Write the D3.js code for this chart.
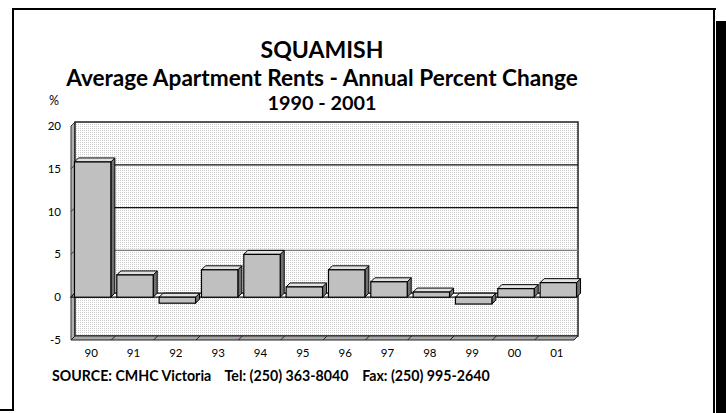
<!DOCTYPE html>
<html><head><meta charset="utf-8">
<script src="https://cdn.jsdelivr.net/npm/d3@7"></script>
<style>html,body{margin:0;padding:0;background:#fff;}svg{display:block;}</style>
</head><body>
<script>
const categories = ["90","91","92","93","94","95","96","97","98","99","00","01"];
const values = [15.8, 2.6, -0.7, 3.2, 5.0, 1.2, 3.2, 1.8, 0.6, -0.8, 1.0, 1.7];
const yTicks = [-5, 0, 5, 10, 15, 20];
const title = "SQUAMISH";
const subtitle = "Average Apartment Rents - Annual Percent Change";
const period = "1990 - 2001";
const source = "SOURCE: CMHC Victoria    Tel: (250) 363-8040    Fax: (250) 995-2640";

const W = 726, H = 413;
const svg = d3.select("body").append("svg").attr("width", W).attr("height", H);
const font = "Lato, 'Open Sans', sans-serif";

// pattern
const defs = svg.append("defs");
const pat = defs.append("pattern").attr("id","stip").attr("width",2).attr("height",2).attr("patternUnits","userSpaceOnUse");
pat.append("rect").attr("width",2).attr("height",2).attr("fill","#fff");
pat.append("rect").attr("width",1).attr("height",1).attr("fill","#cccccc");

// frame
const frame = svg.append("g").attr("fill","#000");
frame.append("rect").attr("x",12).attr("y",8).attr("width",704).attr("height",2);
frame.append("rect").attr("x",12).attr("y",8).attr("width",2).attr("height",403);
frame.append("rect").attr("x",0).attr("y",409).attr("width",14).attr("height",2);
frame.append("rect").attr("x",713).attr("y",8).attr("width",2).attr("height",405);
frame.append("rect").attr("x",716).attr("y",21).attr("width",10).attr("height",392);

// scales (back wall coordinates)
const D = 4; // 3D depth offset
const y = d3.scaleLinear().domain([-5, 20]).range([336, 122]);
const x = d3.scaleBand().domain(categories).range([71, 579]).paddingInner(0.14).paddingOuter(0.07);
const x0 = 75, x1 = 578;

const g = svg.append("g");
// left side wall
g.append("path").attr("d", `M${x0},${y(20)} L${x0-D},${y(20)+D} L${x0-D},${y(-5)+D} L${x0},${y(-5)} Z`)
  .attr("fill","#b0b0b0").attr("stroke","#333").attr("stroke-width",1);
// back wall
g.append("rect").attr("x",x0).attr("y",y(20)).attr("width",x1-x0).attr("height",y(-5)-y(20))
  .attr("fill","url(#stip)").attr("stroke","#222").attr("stroke-width",1.5);
// gridlines
[5,10,15].forEach(v=>{
  g.append("line").attr("x1",x0).attr("x2",x1).attr("y1",y(v)).attr("y2",y(v))
    .attr("stroke", v===5 ? "#7a7a7a" : "#111").attr("stroke-width",1.3);
  g.append("line").attr("x1",x0).attr("x2",x0-D).attr("y1",y(v)).attr("y2",y(v)+D)
    .attr("stroke","#333").attr("stroke-width",1);
});
// zero plane
g.append("path").attr("d", `M${x0},${y(0)} L${x1},${y(0)} L${x1-D},${y(0)+D} L${x0-D},${y(0)+D} Z`)
  .attr("fill","#fff").attr("stroke","#111").attr("stroke-width",1.2);
// floor strip
g.append("path").attr("d", `M${x0},${y(-5)} L${x1},${y(-5)} L${x1-D},${y(-5)+D} L${x0-D},${y(-5)+D} Z`)
  .attr("fill","#a8a8a8").attr("stroke","#222").attr("stroke-width",1);
const step = x.step();
categories.forEach((c,i)=>{
  if(i===0) return;
  const bx = x(c) - step*x.paddingInner()/2 + 2;
  g.append("line").attr("x1",bx).attr("x2",bx-D).attr("y1",y(-5)).attr("y2",y(-5)+D)
    .attr("stroke","#222").attr("stroke-width",1);
});

// bars: front face in front plane
const bars = g.selectAll("g.bar").data(values).join("g").attr("class","bar");
bars.each(function(v,i){
  const b = d3.select(this);
  const fx = x(categories[i]) + 0.5;
  const w = x.bandwidth();
  const yt = Math.min(y(v), y(0)) + D;
  const yb = Math.max(y(v), y(0)) + D;
  b.append("path").attr("d", `M${fx+w},${yt} L${fx+w+D},${yt-D} L${fx+w+D},${yb-D} L${fx+w},${yb} Z`)
    .attr("fill","#707070").attr("stroke","#000").attr("stroke-width",1);
  b.append("path").attr("d", `M${fx},${yt} L${fx+D},${yt-D} L${fx+w+D},${yt-D} L${fx+w},${yt} Z`)
    .attr("fill","#e2e2e2").attr("stroke","#000").attr("stroke-width",1);
  b.append("rect").attr("x",fx).attr("y",yt).attr("width",w).attr("height",yb-yt)
    .attr("fill","#c0c0c0").attr("stroke","#000").attr("stroke-width",1.2);
});

// y labels (front plane)
const ty = svg.append("g").attr("font-family",font).attr("font-size",11.5).attr("fill","#000");
yTicks.forEach(v=>{
  ty.append("text").attr("x",61).attr("y",y(v)+D+4).attr("text-anchor","end").text(v);
});
categories.forEach(c=>{
  ty.append("text").attr("x",x(c)+x.bandwidth()/2-1).attr("y",357).attr("text-anchor","middle").text(c);
});
ty.append("text").attr("x",49).attr("y",105).attr("font-size",12.5).text("%");

function fitText(txt, cx, baseline, width, size, anchor){
  const t = svg.append("text").attr("font-family",font).attr("font-weight","bold")
    .attr("font-size",size).attr("x",cx).attr("y",baseline).attr("text-anchor",anchor||"middle")
    .attr("fill","#000").style("white-space","pre").text(txt);
  const l = t.node().getComputedTextLength();
  t.attr("font-size", size*width/l);
  return t;
}
fitText(title, 322, 58, 123, 22);
fitText(subtitle, 322, 86, 512, 17);
fitText(period, 322, 110, 109, 17);
fitText(source, 52, 381, 438, 11, "start");
</script>
</body></html>
